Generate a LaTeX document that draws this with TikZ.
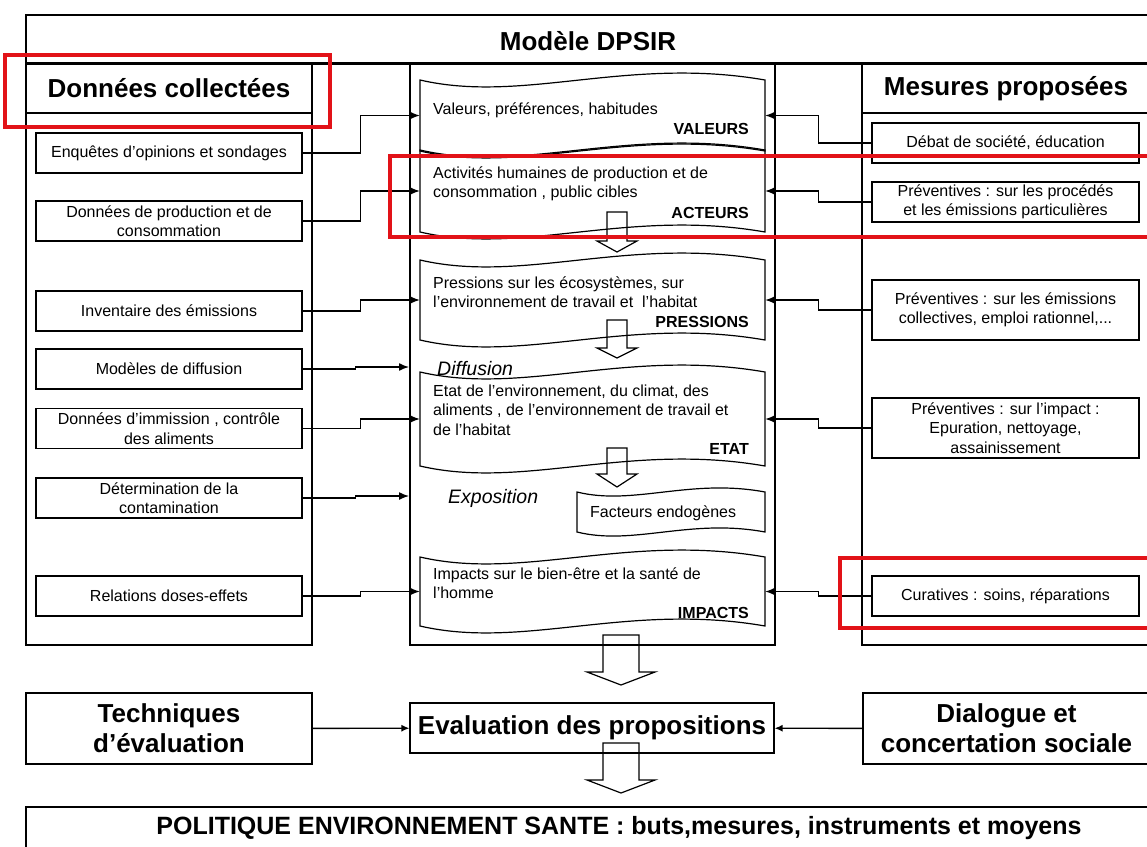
\documentclass[tikz,border=0pt]{standalone}
\usepackage{fontspec}
\setmainfont{Liberation Sans}
\usetikzlibrary{positioning, arrows.meta}

\definecolor{surligne}{RGB}{226,18,24}

\tikzset{
  cadre/.style={draw, line width=1.2pt, inner sep=0pt},
  donnee/.style={draw, line width=1.4pt, minimum width=266, minimum height=40, align=center, inner sep=1pt, font=\fontsize{16}{19.5}\selectfont},
  titre/.style={font=\fontsize{26}{30}\selectfont\bfseries, align=center},
  texte/.style={anchor=west, align=left, inner sep=0pt, font=\fontsize{16}{19.5}\selectfont},
  etiq/.style={anchor=east, inner sep=0pt, font=\fontsize{16}{19.5}\selectfont\bfseries},
  flux/.style={anchor=west, inner sep=0pt, font=\fontsize{19.5}{22}\selectfont\itshape},
  bord/.style={line width=1.2pt},
  lien/.style={-{Latex[length=10pt,width=8pt]}, line width=1.4pt},
  creux/.style={line width=1.2pt},
  rouge/.style={draw=surligne, line width=4.5pt}
}

% bande ondulee : nom, gauche, haut, droite, bas, creux de la vague
\newcommand{\bande}[6]{%
  \node[inner sep=0pt, minimum width={#4-#2}, minimum height={#5-#3}] (#1) at ({(#2+#4)/2},{(#3+#5)/2}) {};
  \draw[bord] (#2,#3) .. controls ({#2+0.3*(#4-#2)},{#3+#6}) and ({#2+0.6*(#4-#2)},{#3-#6}) .. (#4,#3)
    -- (#4,#5) .. controls ({#2+0.6*(#4-#2)},{#5-#6}) and ({#2+0.3*(#4-#2)},{#5+#6}) .. (#2,#5) -- cycle;}

% fleche creuse : x centre, haut, debut tete, pointe, demi-corps, demi-tete
\newcommand{\fleche}[6]{%
  \draw[creux] ({#1-#5},#2) -- ({#1+#5},#2) -- ({#1+#5},#3) -- ({#1+#6},#3)
    -- (#1,#4) -- ({#1-#6},#3) -- ({#1-#5},#3) -- cycle;}

\begin{document}
\begin{tikzpicture}[x=1pt, y=-1pt]
\useasboundingbox (0,0) rectangle (1147,846);
\clip (0,0) rectangle (1147,846);
\fill[white] (0,0) rectangle (1147,846);

% titre
\node[cadre, minimum width=1124, minimum height=48] (modele) at (588,39) {};
\draw[line width=2.4pt] (modele.south west) -- (modele.south east);
\node[titre] (dpsir) at (588,41) {Modèle DPSIR};

% colonnes
\node[cadre, minimum width=286, minimum height=582] (gauche) at (169,354) {};
\node[cadre, titre, minimum width=286, minimum height=50] (collecte) at (169,88) {Données collectées};
\node[cadre, minimum width=365, minimum height=581] (centre) at (592.5,354.5) {};
\node[cadre, minimum width=288, minimum height=581] (droite) at (1006,354.5) {};
\node[cadre, titre, minimum width=288, minimum height=49] (propose) at (1006,88.5) {Mesures proposées};

% donnees collectees
\node[donnee] (enquetes) at (169,153) {Enquêtes d'opinions et sondages};
\node[donnee] (production) at (169,221) {Données de production et de\\consommation};
\node[donnee] (inventaire) at (169,311) {Inventaire des émissions};
\node[donnee] (modeles) at (169,369) {Modèles de diffusion};
\node[donnee] (immission) at (169,428.5) {Données d'immission , contrôle\\des aliments};
\node[donnee] (determination) at (169,498) {Détermination de la\\contamination};
\node[donnee] (relations) at (169,596) {Relations doses-effets};

% mesures proposees
\node[donnee, minimum width=267] (debat) at (1005.5,143) {Débat de société, éducation};
\node[donnee, minimum width=267] (procedes) at (1005.5,202) {Préventives :  sur les procédés\\et les émissions particulières};
\node[donnee, minimum width=267, minimum height=60] (emissions) at (1005.5,310) {Préventives : sur les émissions\\collectives, emploi rationnel,...};
\node[donnee, minimum width=267, minimum height=60] (impact) at (1005.5,428) {Préventives : sur l'impact :\\Epuration, nettoyage,\\assainissement};
\node[donnee, minimum width=267] (curatives) at (1005.5,596) {Curatives : soins, réparations};

% modele DPSIR
\bande{valeurs}{420}{80}{765}{151}{24}
\bande{acteurs}{420}{150}{765}{232}{24}
\bande{pressions}{420}{260}{765}{340}{24}
\bande{etat}{420}{372}{765}{466}{24}
\bande{facteurs}{577}{492}{765}{532}{14}
\bande{impacts}{420}{557}{765}{626}{24}

\node[texte] (tvaleurs) at (433,110) {Valeurs, préférences, habitudes};
\node[etiq] (lvaleurs) at (749,129) {VALEURS};
\node[texte] (tacteurs) at (433,184) {Activités humaines de production et de\\consommation , public cibles};
\node[etiq] (lacteurs) at (749,213) {ACTEURS};
\node[texte] (tpressions) at (433,292) {Pressions sur les écosystèmes, sur\\l'environnement de travail et \ l'habitat};
\node[etiq] (lpressions) at (749,322) {PRESSIONS};
\node[flux] (diffusion) at (437,369) {Diffusion};
\node[texte] (tetat) at (433,410) {Etat de l'environnement, du climat, des\\aliments , de l'environnement de travail et\\de l'habitat};
\node[etiq] (letat) at (749,449) {ETAT};
\node[flux] (exposition) at (448,498) {Exposition};
\node[texte] (tfacteurs) at (590,513) {Facteurs endogènes};
\node[texte] (timpacts) at (433,583) {Impacts sur le bien-être et la santé de\\l'homme};
\node[etiq] (limpacts) at (749,613) {IMPACTS};

\fleche{617}{212}{241}{252}{10}{20}
\fleche{617}{320}{348}{358}{10}{20}
\fleche{617}{448}{474}{487}{10}{20}
\fleche{621}{635}{672}{685}{18}{34}

% liens gauche
\coordinate (entreediff) at (409,367);
\coordinate (entreeexpo) at (409,496);
\draw[lien] (enquetes.east) -- ++(58,0) |- (valeurs.west);
\draw[lien] (production.east) -- ++(58,0) |- (acteurs.west);
\draw[lien] (inventaire.east) -- ++(58,0) |- (pressions.west);
\draw[lien] (modeles.east) -- ++(53,0) |- (entreediff);
\draw[lien] (immission.east) -- ++(58,0) |- (etat.west);
\draw[lien] (determination.east) -- ++(53,0) |- (entreeexpo);
\draw[lien] (relations.east) -- ++(58,0) |- (impacts.west);

% liens droite
\draw[lien] (debat.west) -- ++(-53,0) |- (valeurs.east);
\draw[lien] (procedes.west) -- ++(-53,0) |- (acteurs.east);
\draw[lien] (emissions.west) -- ++(-53,0) |- (pressions.east);
\draw[lien] (impact.west) -- ++(-53,0) |- (etat.east);
\draw[lien] (curatives.west) -- ++(-53,0) |- (impacts.east);

% evaluation
\node[cadre, titre, minimum width=286, minimum height=71] (techniques) at (169,728.5) {Techniques\\d'évaluation};
\node[cadre, titre, minimum width=364, minimum height=50] (evaluation) at (592,728) {Evaluation des propositions};
\node[cadre, titre, minimum width=287, minimum height=71] (dialogue) at (1006.5,728.5) {Dialogue et\\concertation sociale};
\draw[lien, -{Latex[length=8pt,width=7pt]}] (techniques) -- (evaluation);
\draw[lien, -{Latex[length=8pt,width=7pt]}] (dialogue) -- (evaluation);
\fleche{621}{743}{780}{793}{18}{34}

\node[cadre, minimum width=1124, minimum height=80] (politique) at (588,847) {};
\node[font=\fontsize{25}{30}\selectfont\bfseries] (tpolitique) at (619,828) {POLITIQUE ENVIRONNEMENT SANTE : buts,mesures, instruments et moyens};

% surlignages
\draw[rouge] (5,55) rectangle (330,127);
\draw[rouge] (390,156) rectangle (1165,237);
\draw[rouge] (840,558) rectangle (1165,628);
\end{tikzpicture}
\end{document}
